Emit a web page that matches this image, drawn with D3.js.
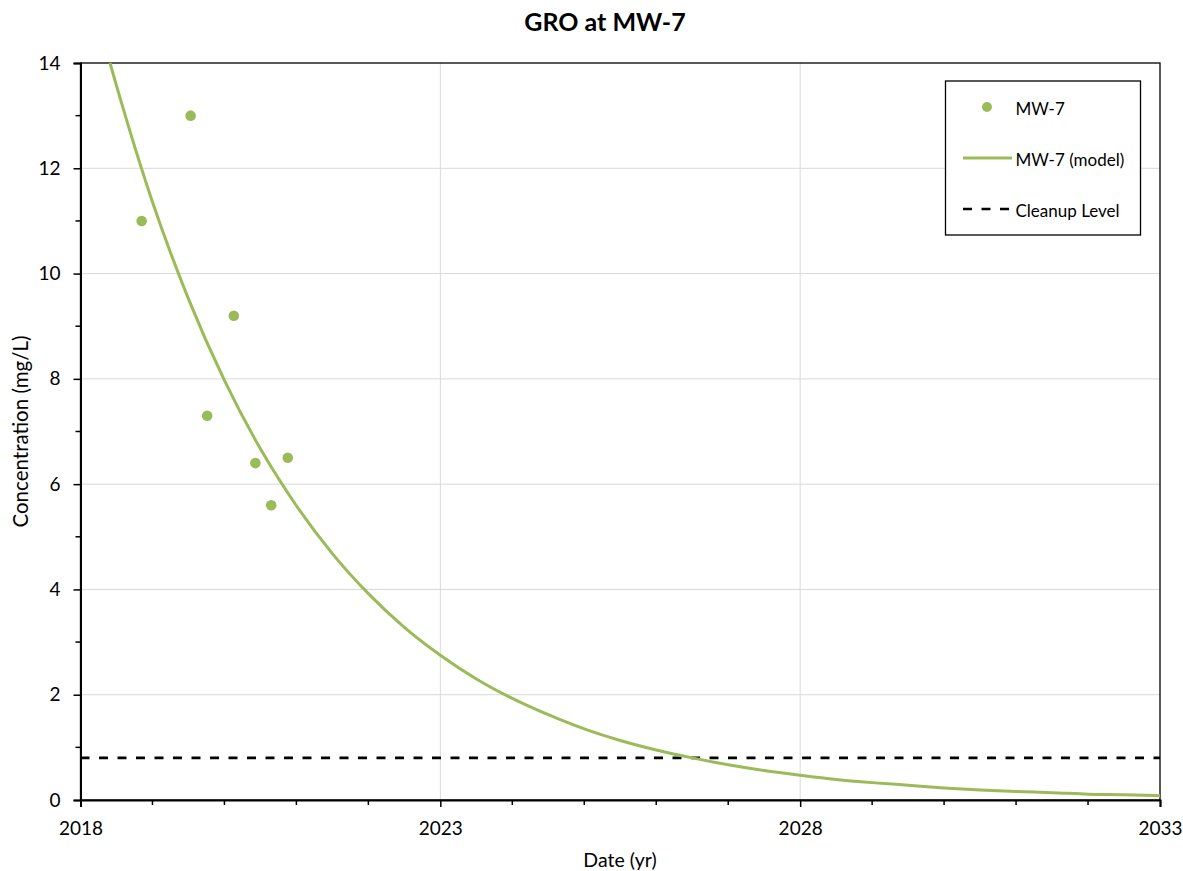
<!DOCTYPE html>
<html><head><meta charset="utf-8">
<script src="https://cdn.jsdelivr.net/npm/d3@7"></script>
<style>body{margin:0;background:#fff}svg{display:block}text{font-family:Lato,"Open Sans",sans-serif;fill:#000}</style>
</head><body><div id="chart"></div>
<script>
const title = "GRO at MW-7";
const xLabel = "Date (yr)";
const yLabel = "Concentration (mg/L)";
const xMajorTicks = [2018, 2023, 2028, 2033];
const xMinorTicks = [2019, 2020, 2021, 2022, 2024, 2025, 2026, 2027, 2029, 2030, 2031, 2032];
const yMajorTicks = [0, 2, 4, 6, 8, 10, 12, 14];
const yMinorTicks = [1, 3, 5, 7, 9, 11, 13];
const obsYears = [2018.85, 2019.53, 2019.76, 2020.13, 2020.43, 2020.65, 2020.88];
const obsValues = [11.0, 13.0, 7.3, 9.2, 6.4, 5.6, 6.5];
const modelYears = [2018.41, 2018.5, 2019, 2019.5, 2020, 2020.5, 2021, 2021.5, 2022, 2022.5, 2023, 2023.5, 2024, 2024.5, 2025, 2025.5, 2026, 2026.5, 2027, 2027.5, 2028, 2028.5, 2029, 2029.5, 2030, 2030.5, 2031, 2031.5, 2032, 2032.5, 2033];
const modelValues = [14.0, 13.57, 11.36, 9.52, 7.97, 6.67, 5.59, 4.68, 3.92, 3.28, 2.75, 2.30, 1.93, 1.62, 1.35, 1.13, 0.95, 0.80, 0.67, 0.56, 0.47, 0.39, 0.33, 0.28, 0.23, 0.19, 0.16, 0.14, 0.11, 0.10, 0.08];
const cleanupLevel = 0.8;
const legendLabels = ["MW-7", "MW-7 (model)", "Cleanup Level"];

const W = 1183, H = 871;
const m = {left: 80.5, right: 1160, top: 63, bottom: 800};
const green = "#9bbb59";
const FONT = "Lato, 'Open Sans', sans-serif";
const svg = d3.select("#chart").append("svg").attr("width", W).attr("height", H);
const x = d3.scaleLinear().domain([2018, 2033]).range([m.left, m.right]);
const y = d3.scaleLinear().domain([0, 14]).range([m.bottom, m.top]);

// gridlines
svg.append("g").selectAll("line").data(yMajorTicks.filter(d => d > 0 && d < 14)).join("line")
  .attr("x1", m.left).attr("x2", m.right).attr("y1", d => y(d)).attr("y2", d => y(d))
  .attr("stroke", "#d9d9d9").attr("stroke-width", 1);
svg.append("g").selectAll("line").data(xMajorTicks.filter(d => d > 2018 && d < 2033)).join("line")
  .attr("y1", m.top).attr("y2", m.bottom).attr("x1", d => x(d)).attr("x2", d => x(d))
  .attr("stroke", "#d9d9d9").attr("stroke-width", 1);

// plot border
svg.append("rect").attr("x", m.left).attr("y", m.top).attr("width", m.right - m.left).attr("height", m.bottom - m.top)
  .attr("fill", "none").attr("stroke", "#000").attr("stroke-width", 1.3);

// axes
const xAxis = d3.axisBottom(x).tickValues(xMajorTicks).tickFormat(d3.format("d")).tickSize(7).tickPadding(15);
const gx = svg.append("g").attr("transform", `translate(0,${m.bottom})`).call(xAxis);
gx.append("g").selectAll("line").data(xMinorTicks).join("line")
  .attr("x1", d => x(d)).attr("x2", d => x(d)).attr("y1", 0).attr("y2", 5).attr("stroke", "#000");
const yAxis = d3.axisLeft(y).tickValues(yMajorTicks).tickSize(7).tickPadding(13);
const gy = svg.append("g").attr("transform", `translate(${m.left},0)`).call(yAxis);
gy.append("g").selectAll("line").data(yMinorTicks).join("line")
  .attr("y1", d => y(d)).attr("y2", d => y(d)).attr("x1", 0).attr("x2", -5).attr("stroke", "#000");
[gx, gy].forEach(g => {
  g.select(".domain").attr("stroke", "#000").attr("stroke-width", 2);
  g.selectAll("line").attr("stroke", "#000").attr("stroke-width", 1.5);
  g.selectAll("text").style("font-family", FONT).style("font-size", "19px").attr("fill", "#000");
});

// cleanup line
svg.append("line").attr("x1", m.left).attr("x2", m.right).attr("y1", y(cleanupLevel)).attr("y2", y(cleanupLevel))
  .attr("stroke", "#000").attr("stroke-width", 2.6).attr("stroke-dasharray", "9,9.5");

// model line
const model = modelYears.map((t, i) => [t, modelValues[i]]);
const line = d3.line().x(d => x(d[0])).y(d => y(d[1])).curve(d3.curveMonotoneX);
svg.append("path").datum(model).attr("d", line).attr("fill", "none").attr("stroke", green).attr("stroke-width", 3);

// observations
svg.append("g").selectAll("circle").data(obsYears.map((t, i) => [t, obsValues[i]])).join("circle")
  .attr("cx", d => x(d[0])).attr("cy", d => y(d[1])).attr("r", 5.3).attr("fill", green);

// title & labels
svg.append("text").attr("x", 605).attr("y", 31).attr("text-anchor", "middle")
  .style("font-size", "25px").style("font-weight", "bold").text(title);
svg.append("text").attr("x", 620).attr("y", 867).attr("text-anchor", "middle").style("font-size", "19.5px").text(xLabel);
svg.append("text").attr("transform", `translate(28,${(m.top + m.bottom) / 2}) rotate(-90)`).attr("text-anchor", "middle")
  .style("font-size", "20.5px").text(yLabel);

// legend
const lg = svg.append("g");
lg.append("rect").attr("x", 945.5).attr("y", 81).attr("width", 195).attr("height", 154)
  .attr("fill", "#fff").attr("stroke", "#000").attr("stroke-width", 1.3);
lg.append("circle").attr("cx", 987).attr("cy", 107).attr("r", 5).attr("fill", green);
lg.append("line").attr("x1", 963).attr("x2", 1012).attr("y1", 158).attr("y2", 158).attr("stroke", green).attr("stroke-width", 3);
lg.append("line").attr("x1", 963).attr("x2", 1012).attr("y1", 209).attr("y2", 209).attr("stroke", "#000").attr("stroke-width", 2.6).attr("stroke-dasharray", "9,9.5");
[107, 158, 209].forEach((yy, i) => lg.append("text").attr("x", 1015.5).attr("y", yy + 8).style("font-size", "17px").text(legendLabels[i]));
</script></body></html>
